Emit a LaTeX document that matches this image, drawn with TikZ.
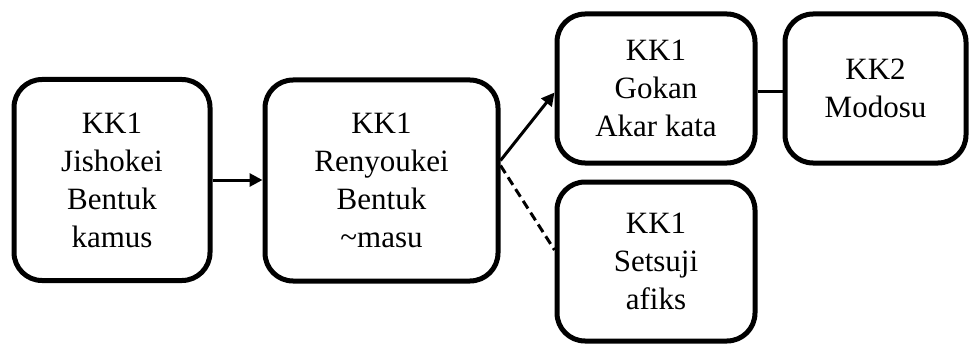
\documentclass[tikz,border=0pt]{standalone}
\usepackage{fontspec}
\setmainfont{Liberation Serif}
\usetikzlibrary{arrows.meta,calc}
\begin{document}
\begin{tikzpicture}[x=1pt,y=-1pt,
  box/.style={draw=black, line width=5pt, rounded corners=28pt, align=center,
    inner sep=0pt, font=\fontsize{31}{38}\selectfont},
  conn/.style={line width=3pt},
  arr/.style={conn, -{Triangle[length=13pt,width=13pt]}}]
\useasboundingbox (0,0) rectangle (970,345);
\node[box, minimum width=196pt, minimum height=201pt] (b1) at (112,180) {KK1\\Jishokei\\Bentuk\\kamus};
\node[box, minimum width=233pt, minimum height=201pt] (b2) at (381.5,180.5) {KK1\\Renyoukei\\Bentuk\\\textasciitilde masu};
\node[box, minimum width=198pt, minimum height=149pt] (b3) at (656,88.5) {KK1\\Gokan\\Akar kata};
\node[box, minimum width=181pt, minimum height=149pt] (b4) at (875.5,88.5) {KK2\\Modosu};
\node[box, minimum width=198pt, minimum height=159pt] (b5) at (656,261.5) {KK1\\Setsuji\\afiks};
\draw[arr] (b1.east) -- (b1.east -| b2.west);
\draw[arr] ([yshift=20pt]b2.east) -- ([yshift=-4pt]b3.west);
\draw[conn, dash pattern=on 9pt off 5pt] ([yshift=15pt]b2.east) -- ([yshift=11.5pt]b5.west);
\draw[conn] ([yshift=-3pt]b3.east) -- ([yshift=-3pt]b3.east -| b4.west);
\end{tikzpicture}
\end{document}
